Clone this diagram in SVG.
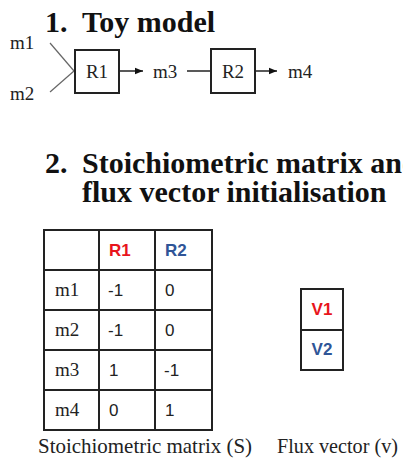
<svg xmlns="http://www.w3.org/2000/svg" width="403" height="460" viewBox="0 0 403 460">
<style>
.h{font-family:"Liberation Serif","DejaVu Serif",serif;font-weight:bold;font-size:30px;fill:#111}
.t{font-family:"Liberation Serif","DejaVu Serif",serif;font-size:19px;fill:#222}
.c{font-family:"Liberation Serif","DejaVu Serif",serif;font-size:21px;fill:#222}
.s{font-family:"Liberation Sans","Open Sans",sans-serif;font-size:17px;fill:#222}
.b{font-family:"Liberation Sans","Open Sans",sans-serif;font-size:17px;font-weight:bold}
.box{fill:#fff;stroke:#222;stroke-width:2}
.ln{stroke:#222;stroke-width:1.5;fill:none}
.grid{stroke:#222;stroke-width:2;fill:none}
</style>
<defs>
<marker id="ah" viewBox="0 0 10 10" refX="10" refY="5" markerWidth="8" markerHeight="8" markerUnits="userSpaceOnUse" orient="auto">
<path d="M0,1 L10,5 L0,9 Z" fill="#111"/>
</marker>
</defs>
<rect width="403" height="460" fill="#fff"/>
<text class="h" x="45" y="32">1.</text>
<text class="h" x="82" y="32">Toy model</text>
<g id="m1"><text class="t" x="10" y="49">m1</text></g>
<g id="m2"><text class="t" x="10" y="100">m2</text></g>
<g id="connectors">
<line x1="50" y1="43" x2="74" y2="71" stroke="#666" stroke-width="1.2"/>
<line x1="50" y1="92" x2="74" y2="71" stroke="#666" stroke-width="1.2"/>
<line class="ln" x1="119" y1="71" x2="143" y2="71" marker-end="url(#ah)"/>
<line class="ln" x1="187" y1="71" x2="211" y2="71"/>
<line class="ln" x1="255" y1="71" x2="277" y2="71" marker-end="url(#ah)"/>
</g>
<g id="R1"><rect class="box" x="75" y="50" width="44" height="43"/><text class="t" x="97" y="78" text-anchor="middle">R1</text></g>
<g id="m3"><text class="t" x="153" y="78">m3</text></g>
<g id="R2"><rect class="box" x="211" y="49" width="44" height="44"/><text class="t" x="233" y="78" text-anchor="middle">R2</text></g>
<g id="m4"><text class="t" x="288" y="78">m4</text></g>
<text class="h" x="45" y="173">2.</text>
<text class="h" x="82" y="173">Stoichiometric matrix and</text>
<text class="h" x="82" y="202">flux vector initialisation</text>
<g id="matrix">
<rect class="grid" x="44" y="230" width="168" height="200"/>
<line class="grid" x1="99" y1="230" x2="99" y2="430"/>
<line class="grid" x1="155" y1="230" x2="155" y2="430"/>
<line class="grid" x1="44" y1="270" x2="212" y2="270"/>
<line class="grid" x1="44" y1="310" x2="212" y2="310"/>
<line class="grid" x1="44" y1="350" x2="212" y2="350"/>
<line class="grid" x1="44" y1="390" x2="212" y2="390"/>
<text class="b" x="109" y="256" fill="#e8141c">R1</text>
<text class="b" x="165" y="256" fill="#2f5597" font-weight="normal">R2</text>
<text class="t" x="55" y="296">m1</text><text class="s" x="108" y="296">-1</text><text class="s" x="165" y="296">0</text>
<text class="t" x="55" y="336">m2</text><text class="s" x="108" y="336">-1</text><text class="s" x="165" y="336">0</text>
<text class="t" x="55" y="376">m3</text><text class="s" x="109" y="376">1</text><text class="s" x="164" y="376">-1</text>
<text class="t" x="55" y="416">m4</text><text class="s" x="109" y="416">0</text><text class="s" x="165" y="416">1</text>
</g>
<g id="flux">
<rect class="grid" x="301" y="289" width="42" height="81"/>
<line class="grid" x1="301" y1="330" x2="343" y2="330"/>
<text class="b" x="322" y="315" text-anchor="middle" fill="#e8141c">V1</text>
<text class="b" x="322" y="355" text-anchor="middle" fill="#2f5597">V2</text>
</g>
<text class="c" x="38" y="453" textLength="214" lengthAdjust="spacingAndGlyphs">Stoichiometric matrix (S)</text>
<text class="c" x="277" y="453" textLength="121" lengthAdjust="spacingAndGlyphs">Flux vector (v)</text>
</svg>
